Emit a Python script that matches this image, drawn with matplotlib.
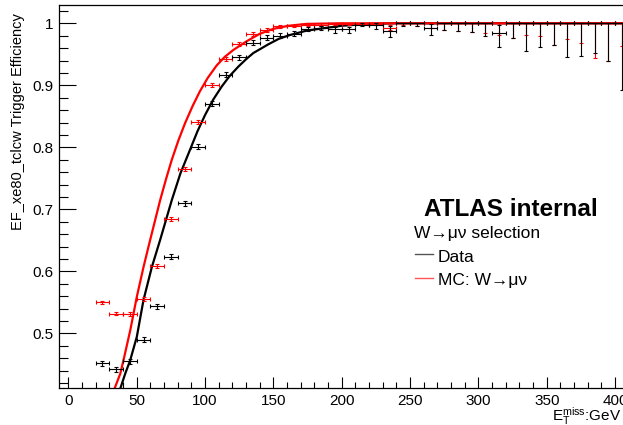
import matplotlib
matplotlib.use('Agg')
import matplotlib.pyplot as plt
from matplotlib.lines import Line2D
from matplotlib.ticker import MultipleLocator, FuncFormatter

plt.rcParams['font.family'] = ['Liberation Sans', 'DejaVu Sans']
plt.rcParams['mathtext.fontset'] = 'custom'
plt.rcParams['mathtext.rm'] = 'Liberation Sans'
plt.rcParams['mathtext.it'] = 'Liberation Sans:italic'

# bin centres (GeV), bin half width 5
bin_x = [25, 35, 45, 55, 65, 75, 85, 95, 105, 115, 125, 135, 145, 155, 165, 175, 185, 195, 205,
         215, 225, 235, 245, 255, 265, 275, 285, 295, 305, 315, 325, 335, 345, 355, 365, 375,
         385, 395, 405]

# Data
data_y = [0.452, 0.442, 0.455, 0.490, 0.544, 0.624, 0.710, 0.801, 0.870, 0.917, 0.945, 0.969,
          0.977, 0.980, 0.983, 0.991, 0.992, 0.990, 0.990, 0.998, 0.997, 0.987, 1.0, 1.0, 0.993,
          1.0, 1.0, 1.0, 1.0, 0.985, 1.0, 1.0, 1.0, 1.0, 1.0, 1.0, 1.0, 1.0, 1.0]
data_lo = [0.004, 0.004, 0.004, 0.004, 0.004, 0.004, 0.004, 0.004, 0.004, 0.004, 0.004, 0.004,
           0.004, 0.004, 0.004, 0.003, 0.003, 0.005, 0.006, 0.003, 0.006, 0.009, 0.004, 0.005,
           0.012, 0.011, 0.012, 0.014, 0.020, 0.023, 0.023, 0.044, 0.039, 0.035, 0.055, 0.053,
           0.048, 0.061, 0.108]
data_hi = [0.004, 0.004, 0.004, 0.004, 0.004, 0.004, 0.004, 0.004, 0.004, 0.004, 0.004, 0.004,
           0.004, 0.004, 0.004, 0.003, 0.003, 0.004, 0.004, 0.002, 0.003, 0.008, 0.0, 0.0,
           0.006, 0.0, 0.0, 0.0, 0.0, 0.012, 0.0, 0.0, 0.0, 0.0, 0.0, 0.0, 0.0, 0.0, 0.0]

# MC: W->mu nu
mc_y = [0.550, 0.532, 0.531, 0.556, 0.609, 0.684, 0.765, 0.841, 0.900, 0.942, 0.967, 0.983,
        0.989, 0.995, 0.996, 0.998, 0.998, 0.999, 0.999, 0.999, 0.999, 0.993, 1.0, 1.0, 1.0,
        1.0, 1.0, 1.0, 1.0, 1.0, 1.0, 1.0, 1.0, 1.0, 1.0, 1.0, 1.0, 1.0, 1.0]
mc_lo = [0.003, 0.003, 0.003, 0.003, 0.003, 0.003, 0.003, 0.003, 0.003, 0.003, 0.003, 0.003,
         0.003, 0.003, 0.002, 0.002, 0.002, 0.002, 0.002, 0.002, 0.002, 0.004, 0.003, 0.005,
         0.008, 0.011, 0.012, 0.014, 0.016, 0.019, 0.024, 0.019, 0.020, 0.035, 0.026, 0.032,
         0.056, 0.061, 0.037]
mc_hi = [0.003, 0.003, 0.003, 0.003, 0.003, 0.003, 0.003, 0.003, 0.003, 0.003, 0.003, 0.003,
         0.003, 0.003, 0.002, 0.002, 0.002, 0.001, 0.001, 0.001, 0.001, 0.004, 0.0, 0.0,
         0.0, 0.0, 0.0, 0.0, 0.0, 0.0, 0.0, 0.0, 0.0, 0.0, 0.0, 0.0, 0.0, 0.0, 0.0]

# fitted turn-on curves
data_fit_x = [38, 41.6, 45.3, 50.1, 55, 61.1, 67.2, 75.7, 82, 89, 94.5, 100, 106, 112.2, 118,
              124.3, 130, 135.3, 146.2, 154, 162, 174, 186.4, 200, 219, 240, 415]
data_fit_y = [0.411, 0.435, 0.457, 0.4945, 0.554, 0.607, 0.651, 0.715, 0.758, 0.796, 0.826,
              0.852, 0.877, 0.898, 0.915, 0.930, 0.942, 0.952, 0.966, 0.975, 0.981, 0.988,
              0.992, 0.996, 0.999, 1.0, 1.0]
mc_fit_x = [33.8, 38, 40.9, 45.3, 50.1, 55, 59.9, 67.2, 71.5, 75.7, 80.5, 85.4, 91, 96.4, 102,
            108.5, 114.5, 120.7, 130.4, 140, 149.9, 161, 174, 198, 415]
mc_fit_y = [0.411, 0.435, 0.462, 0.505, 0.559, 0.607, 0.651, 0.715, 0.749, 0.780, 0.811, 0.839,
            0.867, 0.891, 0.912, 0.932, 0.946, 0.957, 0.971, 0.983, 0.991, 0.996, 0.999, 1.0,
            1.0]

W, H = 623, 425
fig = plt.figure(figsize=(W / 100, H / 100), dpi=100)

x0, x1 = -6.6, 415.0
px_per_unit = 1.367
left_px, top_px, bot_px = 59.3, 5.0, 388.0
right_px = left_px + (x1 - x0) * px_per_unit
ax = fig.add_axes([left_px / W, 1 - bot_px / H, (right_px - left_px) / W, (bot_px - top_px) / H])

ax.plot(data_fit_x, data_fit_y, color='black', lw=1.6, zorder=2)
ax.plot(mc_fit_x, mc_fit_y, color='red', lw=1.6, zorder=2)

xerr = [5] * len(bin_x)
ax.errorbar(bin_x, mc_y, yerr=[mc_lo, mc_hi], xerr=xerr, fmt='none', ecolor='red',
            elinewidth=0.8, capsize=1.3, capthick=0.8, zorder=3)
ax.errorbar(bin_x, data_y, yerr=[data_lo, data_hi], xerr=xerr, fmt='none', ecolor='black',
            elinewidth=0.8, capsize=1.3, capthick=0.8, zorder=4)

ax.set_xlim(x0, x1)
ax.set_ylim(0.412, 1.0295)

ax.xaxis.set_major_locator(MultipleLocator(50))
ax.xaxis.set_minor_locator(MultipleLocator(10))
ax.yaxis.set_major_locator(MultipleLocator(0.1))
ax.yaxis.set_minor_locator(MultipleLocator(0.02))
ax.yaxis.set_major_formatter(FuncFormatter(lambda v, p: f'{v:g}'))
ax.tick_params(axis='both', which='both', direction='in', top=False, right=False,
               labelsize=11, width=0.8)
ax.tick_params(axis='x', which='major', length=8, pad=4)
ax.tick_params(axis='x', which='minor', length=4)
ax.tick_params(axis='y', which='major', length=12.5, pad=4)
ax.tick_params(axis='y', which='minor', length=6.5)
for s in ax.spines.values():
    s.set_linewidth(0.9)

fig.text(18 / W, 1 - 13 / H, 'EF_xe80_tclcw Trigger Efficiency', rotation=90,
         ha='center', va='top', fontsize=10.5)
fig.text(621 / W, 1 - 421 / H, r'$\mathrm{E}_{\mathrm{T}}^{\mathrm{miss}}$:GeV',
         ha='right', va='baseline', fontsize=11)

fig.text(424 / W, 1 - 216.5 / H, 'ATLAS internal', fontsize=17.5, fontweight='bold',
         ha='left', va='baseline')
fig.text(414 / W, 1 - 238 / H, 'W→μν selection', fontsize=12.5, ha='left', va='baseline')
fig.text(438 / W, 1 - 262 / H, 'Data', fontsize=12.5, ha='left', va='baseline')
fig.text(438 / W, 1 - 285 / H, 'MC: W→μν', fontsize=12.5, ha='left', va='baseline')
fig.add_artist(Line2D([415 / W, 433 / W], [1 - 254 / H, 1 - 254 / H], color='#555555',
                      lw=1.0, transform=fig.transFigure))
fig.add_artist(Line2D([415 / W, 433 / W], [1 - 278 / H, 1 - 278 / H], color='#ff5555',
                      lw=1.0, transform=fig.transFigure))

fig.savefig('out.png', dpi=100)
